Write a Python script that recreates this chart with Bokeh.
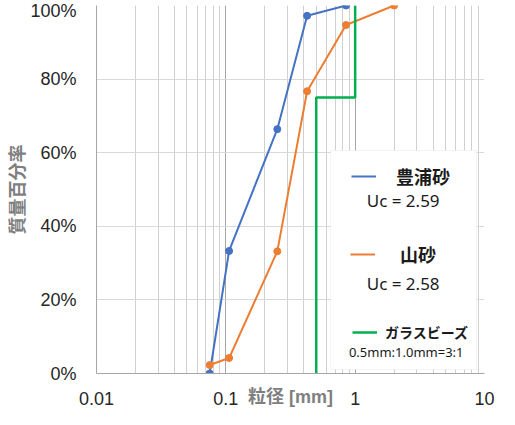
from bokeh.plotting import figure
from bokeh.models import (FixedTicker, Label, Legend, LegendItem, BoxAnnotation,
                          CustomJSTickFormatter)
from bokeh.embed import file_html
from bokeh.resources import INLINE

# ---- data ----
toyoura_size = [0.075, 0.106, 0.25, 0.425, 0.85]
toyoura_pass = [0.0, 33.3, 66.4, 97.2, 100.0]
yama_size = [0.075, 0.106, 0.25, 0.425, 0.85, 2.0]
yama_pass = [2.3, 4.2, 33.2, 76.7, 94.7, 100.0]
beads_size = [0.5, 0.5, 1.0, 1.0]
beads_pass = [0.0, 75.0, 75.0, 100.0]

x_ticks = [0.01, 0.1, 1, 10]
x_tick_labels = ["0.01", "0.1", "1", "10"]
y_ticks = [0, 20, 40, 60, 80, 100]
y_tick_labels = ["0%", "20%", "40%", "60%", "80%", "100%"]

names = ["豊浦砂", "山砂", "ガラスビーズ"]
uc_texts = ["Uc = 2.59", "Uc = 2.58"]
beads_note = "0.5mm:1.0mm=3:1"

BLUE = "#4472C4"
ORANGE = "#ED7D31"
GREEN = "#00B050"
NUMFONT = "Liberation Sans"
TXTFONT = "Noto Sans"
JPFONT = "Noto Sans CJK JP"
TITLEFONT = "Liberation Sans, Noto Sans CJK JP"

p = figure(width=499, height=409, x_axis_type="log", x_range=(0.01, 10),
           y_range=(0, 100), output_backend="svg", toolbar_location=None,
           min_border_left=90, min_border_right=15, min_border_top=5,
           min_border_bottom=0)
p.outline_line_color = None

minor = [m * 10.0 ** e for e in (-2, -1, 0) for m in range(2, 10)]
p.xaxis.ticker = FixedTicker(ticks=x_ticks, minor_ticks=minor)
p.xaxis.formatter = CustomJSTickFormatter(
    args=dict(t=x_ticks, l=x_tick_labels),
    code="for (let i=0;i<t.length;i++){ if (Math.abs(Math.log10(tick)-Math.log10(t[i]))<1e-6) return l[i]; } return '';")
p.yaxis.ticker = FixedTicker(ticks=y_ticks)
p.yaxis.major_label_overrides = {k: v for k, v in zip(y_ticks, y_tick_labels)}

for ax in (p.xaxis, p.yaxis):
    ax.axis_line_color = "#a6a6a6"
    ax.major_tick_line_color = None
    ax.minor_tick_line_color = None
    ax.major_tick_out = 0
    ax.minor_tick_out = 0
    ax.major_label_text_font = NUMFONT
    ax.major_label_text_font_size = "18px"
    ax.major_label_text_color = "#262626"
p.xaxis.major_label_standoff = 18
p.yaxis.major_label_standoff = 20

p.yaxis.axis_label = "質量百分率"
p.yaxis.axis_label_text_font = JPFONT
p.yaxis.axis_label_text_font_size = "18px"
p.yaxis.axis_label_text_font_style = "bold"
p.yaxis.axis_label_text_color = "#7f7f7f"
p.yaxis.axis_label_standoff = -2

# x-axis title sits on the same row as the tick labels
p.xaxis.axis_label = "粒径 [mm]"
p.xaxis.axis_label_text_font = TITLEFONT
p.xaxis.axis_label_text_font_size = "18px"
p.xaxis.axis_label_text_font_style = "bold"
p.xaxis.axis_label_text_color = "#7f7f7f"
p.xaxis.axis_label_standoff = -21

p.xgrid.grid_line_color = "#a6a6a6"
p.xgrid.minor_grid_line_color = "#d0d0d0"
p.ygrid.grid_line_color = "#d9d9d9"

# ---- series ----
r_blue = p.line(toyoura_size, toyoura_pass, line_color=BLUE, line_width=2)
p.scatter(toyoura_size, toyoura_pass, size=7, fill_color=BLUE, line_color=BLUE)
r_orange = p.line(yama_size, yama_pass, line_color=ORANGE, line_width=2)
p.scatter(yama_size, yama_pass, size=7, fill_color=ORANGE, line_color=ORANGE)
r_green = p.line(beads_size, beads_pass, line_color=GREEN, line_width=2.5)

# ---- legend panel ----
p.add_layout(BoxAnnotation(left=0.647, right=8.69, bottom=1.1, top=60.6,
                           fill_color="white", fill_alpha=1.0,
                           line_color="#d9d9d9", line_width=1))

def make_legend(label, rend, loc, size, standoff):
    lg = Legend(items=[LegendItem(label=label, renderers=[rend])], location=loc,
                padding=0, margin=0, spacing=0, border_line_color=None,
                background_fill_alpha=0, glyph_width=25, glyph_height=20,
                label_height=20, label_standoff=standoff,
                label_text_font=JPFONT, label_text_font_size=size,
                label_text_font_style="bold", label_text_color="#1a1a1a")
    p.add_layout(lg)

make_legend(names[0], r_blue, (255, 184), "18px", 20)
make_legend(names[1], r_orange, (254, 106), "18px", 25)
make_legend(names[2], r_green, (256, 31), "14px", 8)

p.add_layout(Label(x=2.35, y=46.9, text=uc_texts[0], text_font=TXTFONT,
                   text_font_size="17px", text_color="#1a1a1a",
                   text_align="center", text_baseline="middle"))
p.add_layout(Label(x=2.35, y=24.5, text=uc_texts[1], text_font=TXTFONT,
                   text_font_size="17px", text_color="#1a1a1a",
                   text_align="center", text_baseline="middle"))
p.add_layout(Label(x=2.48, y=5.9, text=beads_note, text_font=TXTFONT,
                   text_font_size="13px", text_color="#1a1a1a",
                   text_align="center", text_baseline="middle"))

open("out.html", "w").write(file_html(p, INLINE))
